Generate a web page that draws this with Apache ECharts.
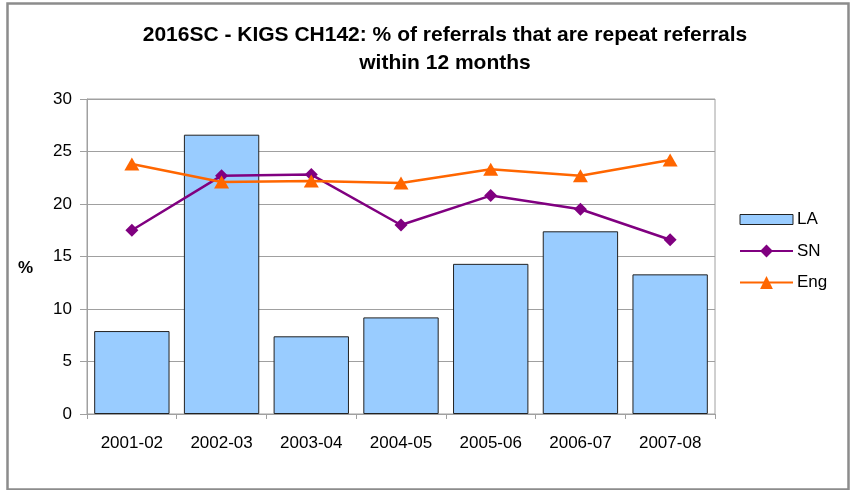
<!DOCTYPE html>
<html>
<head>
<meta charset="utf-8">
<script src="https://cdn.jsdelivr.net/npm/echarts@6/dist/echarts.min.js"></script>
<style>
html,body{margin:0;padding:0;background:#fff;}
#chart{width:850px;height:490px;}
</style>
</head>
<body>
<div id="chart"></div>
<script>
const categories = ['2001-02','2002-03','2003-04','2004-05','2005-06','2006-07','2007-08'];
const laValues = [7.9, 26.6, 7.4, 9.2, 14.3, 17.4, 13.3];
const snValues = [17.5, 22.7, 22.8, 18.0, 20.8, 19.5, 16.6];
const engValues = [23.8, 22.1, 22.2, 22.0, 23.3, 22.7, 24.2];
const yTicks = [0, 5, 10, 15, 20, 25, 30];

const chart = echarts.init(document.getElementById('chart'), null, {renderer: 'canvas'});
const FONT = '"Liberation Sans", Arial, sans-serif';
chart.setOption({
  animation: false,
  backgroundColor: '#fff',
  textStyle: {fontFamily: FONT},
  title: {
    text: '2016SC - KIGS CH142: % of referrals that are repeat referrals\nwithin 12 months',
    left: 445, top: 21, textAlign: 'center', padding: 0,
    textStyle: {fontFamily: FONT, fontSize: 21, fontWeight: 'bold', color: '#000', lineHeight: 28}
  },
  graphic: [
    {type: 'rect', left: 5, top: 1, shape: {width: 841, height: 486},
     style: {fill: 'none', stroke: '#8c8c8c', lineWidth: 2.5}, silent: true, z: -1},
    {type: 'text', left: 18, top: 260, style: {text: '%', font: 'bold 17px ' + FONT, fill: '#000'}}
  ],
  legend: {
    orient: 'vertical', left: 739, top: 211, padding: 0,
    itemWidth: 53, itemHeight: 16, itemGap: 14.5,
    textStyle: {fontFamily: FONT, fontSize: 17, color: '#000', padding: [0,0,0,-1]},
    data: [
      {name: 'LA', icon: 'path://M0 0H53V10H0Z', itemStyle: {borderWidth: 1, borderColor: '#222'}},
      {name: 'SN'},
      {name: 'Eng'}
    ]
  },
  grid: {left: 87, right: 135, top: 99, bottom: 76, show: true, borderColor: '#a0a0a0', borderWidth: 1, backgroundColor: '#fff'},
  xAxis: {
    type: 'category', data: categories,
    axisLine: {lineStyle: {color: '#a0a0a0', width: 1}},
    axisTick: {show: true, alignWithLabel: false, length: 5, lineStyle: {color: '#a0a0a0'}},
    axisLabel: {color: '#000', fontSize: 17, fontFamily: FONT, margin: 21}
  },
  yAxis: {
    type: 'value', min: 0, max: 30, interval: 5,
    axisLine: {show: true, lineStyle: {color: '#a0a0a0', width: 1}},
    axisTick: {show: true, length: 7, lineStyle: {color: '#a0a0a0'}},
    axisLabel: {color: '#000', fontSize: 17, fontFamily: FONT, margin: 15,
      formatter: v => yTicks.includes(v) ? String(v) : ''},
    splitLine: {show: true, lineStyle: {color: '#a0a0a0', width: 1}}
  },
  series: [
    {name: 'LA', type: 'bar', data: laValues, barCategoryGap: '16%',
     itemStyle: {color: '#99CCFF', borderColor: '#222', borderWidth: 1}},
    {name: 'SN', type: 'line', data: snValues, symbol: 'diamond', symbolSize: [13, 13],
     lineStyle: {color: '#800080', width: 2.5}, itemStyle: {color: '#800080'}, z: 3},
    {name: 'Eng', type: 'line', data: engValues, symbol: 'triangle', symbolSize: [15, 13],
     lineStyle: {color: '#FF6600', width: 2.5}, itemStyle: {color: '#FF6600'}, z: 4}
  ]
});
</script>
</body>
</html>
